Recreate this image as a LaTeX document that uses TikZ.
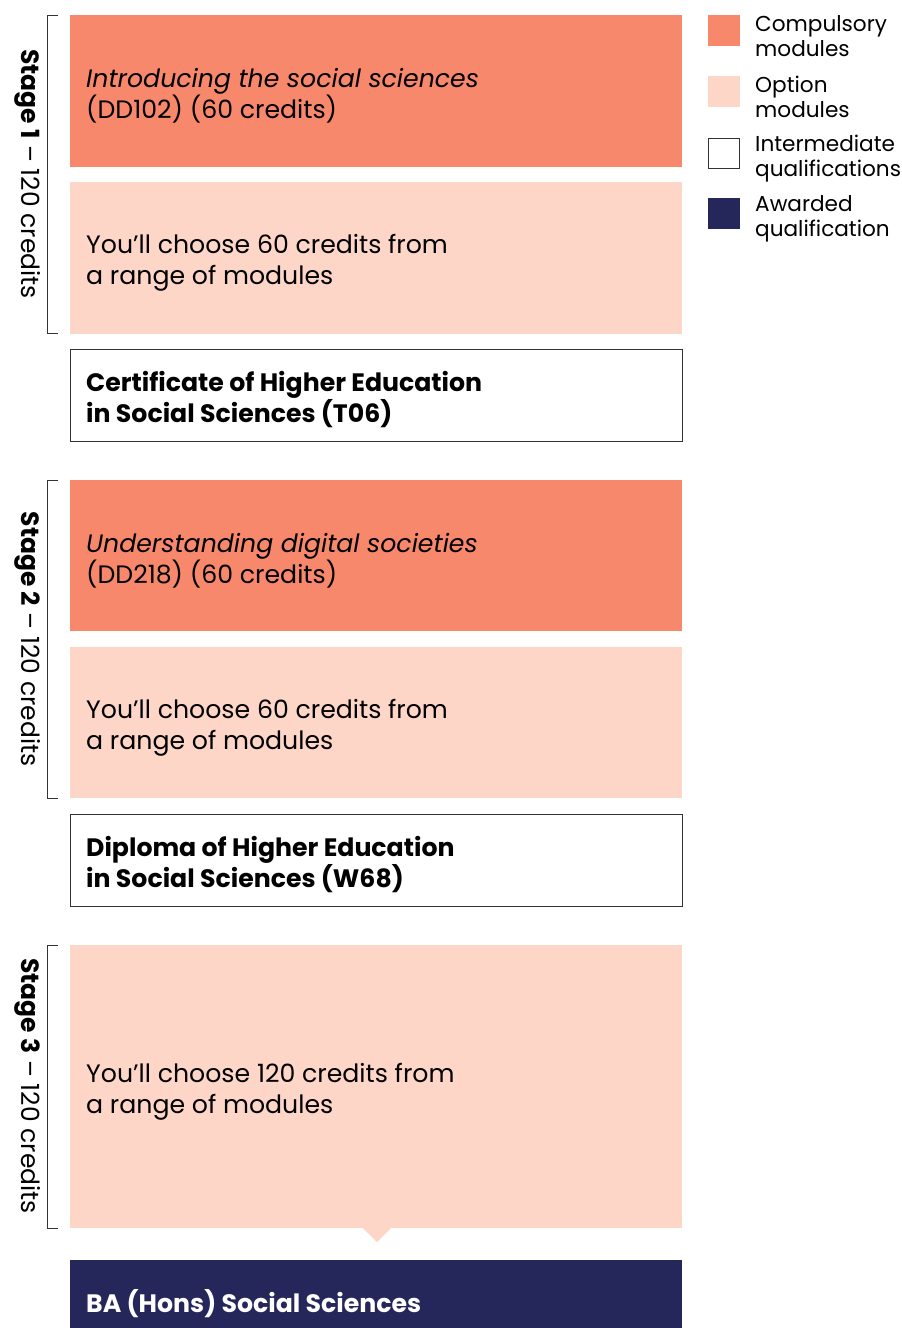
\documentclass[tikz,border=0pt]{standalone}
\usepackage{fontspec}
\setmainfont{Poppins}
\definecolor{compc}{HTML}{F7886B}
\definecolor{optc}{HTML}{FDD6C8}
\definecolor{navyc}{HTML}{25275B}
\definecolor{linec}{HTML}{333333}
\begin{document}
\begin{tikzpicture}[x=1pt,y=-1pt,
  box/.style={anchor=north west,minimum width=612pt,inner sep=0pt,outer sep=0pt},
  comp/.style={box,fill=compc},
  opt/.style={box,fill=optc},
  qual/.style={box,draw=linec,line width=1pt,fill=white},
  award/.style={box,fill=navyc},
  btxt/.style={anchor=west,align=left,inner sep=0pt,font=\fontsize{25.2}{31}\selectfont},
  stagelab/.style={rotate=-90,font=\fontsize{25}{28}\selectfont,inner sep=0pt},
  bracket/.style={draw=linec,line width=1pt},
  legsq/.style={anchor=north west,minimum width=32pt,minimum height=31pt,inner sep=0pt,outer sep=0pt},
  legtxt/.style={anchor=west,align=left,font=\fontsize{21.6}{25}\selectfont,inner sep=0pt}]
\useasboundingbox (0,0) rectangle (902,1328);
\fill[white] (0,0) rectangle (902,1328);
% Stage 1
\node[comp,minimum height=152pt] (c1) at (70,15) {};
\node[btxt] (c1t) at ([xshift=16pt,yshift=-5pt]c1.west) {\textit{Introducing the social sciences}\\(DD102) (60 credits)};
\node[opt,minimum height=152pt] (o1) at (70,182) {};
\node[btxt] (o1t) at ([xshift=16pt,yshift=-5pt]o1.west) {You’ll choose 60 credits from\\a range of modules};
\node[qual,minimum height=92pt] (q1) at (70,349) {};
\node[btxt] (q1t) at ([xshift=16pt,yshift=-5pt]q1.west) {\textbf{Certificate of Higher Education}\\\textbf{in Social Sciences (T06)}};
% Stage 2
\node[comp,minimum height=151pt] (c2) at (70,480) {};
\node[btxt] (c2t) at ([xshift=16pt,yshift=-5pt]c2.west) {\textit{Understanding digital societies}\\(DD218) (60 credits)};
\node[opt,minimum height=151pt] (o2) at (70,647) {};
\node[btxt] (o2t) at ([xshift=16pt,yshift=-5pt]o2.west) {You’ll choose 60 credits from\\a range of modules};
\node[qual,minimum height=92pt] (q2) at (70,814) {};
\node[btxt] (q2t) at ([xshift=16pt,yshift=-5pt]q2.west) {\textbf{Diploma of Higher Education}\\\textbf{in Social Sciences (W68)}};
% Stage 3
\node[opt,minimum height=283pt] (o3) at (70,945) {};
\node[btxt] (o3t) at ([xshift=16pt,yshift=-5pt]o3.west) {You’ll choose 120 credits from\\a range of modules};
\node[award,minimum height=86pt] (a1) at (70,1260) {};
\node[btxt,text=white] (a1t) at ([xshift=16pt,yshift=-1pt]a1.west) {\textbf{BA (Hons) Social Sciences}};
\fill[optc] ([xshift=293pt]o3.south west) -- ++(14,14) -- ++(14,-14) -- cycle;
% brackets
\draw[bracket] (58,15) -| (47,333) -- (58,333);
\draw[bracket] (58,480) -| (47,798) -- (58,798);
\draw[bracket] (58,945) -| (47,1228) -- (58,1228);
\node[stagelab] (s1) at (28,174) {\textbf{Stage 1} – 120 credits};
\node[stagelab] (s2) at (28,639) {\textbf{Stage 2} – 120 credits};
\node[stagelab] (s3) at (28,1086) {\textbf{Stage 3} – 120 credits};
% legend
\node[legsq,fill=compc] (l1) at (708,15) {};
\node[legsq,fill=optc] (l2) at (708,76) {};
\node[legsq,draw=linec,line width=1pt,fill=white,minimum width=31pt,minimum height=30pt] (l3) at (708.5,138.5) {};
\node[legsq,fill=navyc] (l4) at (708,198) {};
\node[legtxt] (t1) at (755,36) {Compulsory\\modules};
\node[legtxt] (t2) at (755,97) {Option\\modules};
\node[legtxt] (t3) at (755,159) {Intermediate\\qualifications};
\node[legtxt] (t4) at (755,219) {Awarded\\qualification};
\end{tikzpicture}
\end{document}
